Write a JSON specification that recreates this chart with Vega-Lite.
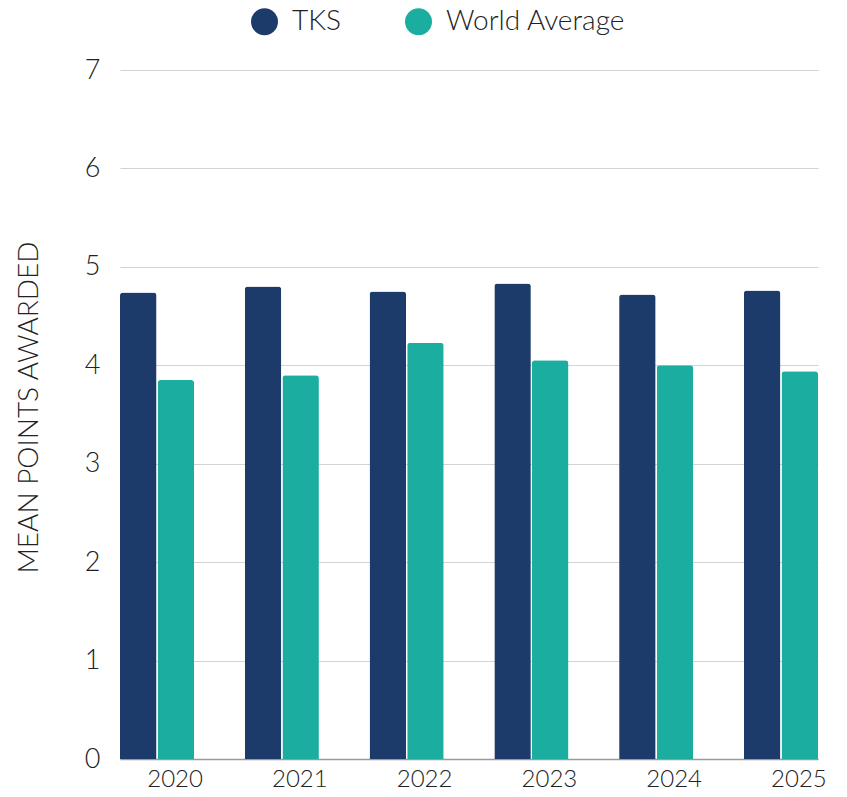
{
  "$schema": "https://vega.github.io/schema/vega-lite/v6.json",
  "width": 698,
  "height": 689,
  "autosize": {"type": "none"},
  "padding": {"left": 120, "top": 70, "right": 29, "bottom": 38},
  "background": "white",
  "config": {
    "view": {"stroke": null},
    "font": "Lato",
    "axis": {"labelFont": "Lato", "titleFont": "Lato", "labelColor": "#222222", "titleColor": "#222222"},
    "legend": {"labelFont": "Lato"}
  },
  "data": {
    "values": [
      {"year": "2020", "series": "TKS", "value": 4.74},
      {"year": "2020", "series": "World Average", "value": 3.85},
      {"year": "2021", "series": "TKS", "value": 4.80},
      {"year": "2021", "series": "World Average", "value": 3.90},
      {"year": "2022", "series": "TKS", "value": 4.75},
      {"year": "2022", "series": "World Average", "value": 4.23},
      {"year": "2023", "series": "TKS", "value": 4.83},
      {"year": "2023", "series": "World Average", "value": 4.05},
      {"year": "2024", "series": "TKS", "value": 4.72},
      {"year": "2024", "series": "World Average", "value": 4.00},
      {"year": "2025", "series": "TKS", "value": 4.76},
      {"year": "2025", "series": "World Average", "value": 3.94}
    ]
  },
  "mark": {"type": "bar", "cornerRadiusTopLeft": 3, "cornerRadiusTopRight": 3},
  "encoding": {
    "x": {
      "field": "year",
      "type": "nominal",
      "scale": {"paddingInner": 0.406, "paddingOuter": 0},
      "axis": {
        "title": null,
        "labelAngle": 0,
        "labelFontSize": 24,
        "labelFontWeight": 300,
        "labelPadding": 8,
        "labelOffset": 18,
        "ticks": false,
        "domain": true,
        "domainColor": "#9a9a9a",
        "domainWidth": 1.5
      }
    },
    "xOffset": {
      "field": "series",
      "type": "nominal",
      "scale": {"paddingInner": 0.03, "paddingOuter": 0}
    },
    "y": {
      "field": "value",
      "type": "quantitative",
      "scale": {"domain": [0, 7], "nice": false},
      "axis": {
        "title": "MEAN POINTS AWARDED",
        "titleFontSize": 28,
        "titleFontWeight": 300,
        "titlePadding": 41,
        "titleY": 337,
        "labelFontSize": 27,
        "labelFontWeight": 300,
        "labelPadding": 20,
        "labelOverlap": false,
        "values": [0, 1, 2, 3, 4, 5, 6, 7],
        "ticks": false,
        "domain": false,
        "gridColor": "#d3d3d3",
        "gridWidth": 1
      }
    },
    "color": {
      "field": "series",
      "type": "nominal",
      "scale": {"domain": ["TKS", "World Average"], "range": ["#1c3a6a", "#1aada0"]},
      "legend": {
        "title": null,
        "orient": "none",
        "direction": "horizontal",
        "legendX": 130,
        "legendY": -63,
        "symbolType": "circle",
        "symbolSize": 729,
        "labelFontSize": 28,
        "labelFontWeight": 300,
        "labelOffset": 13,
        "labelLimit": 400,
        "labelColor": "#222222",
        "columnPadding": 63,
        "symbolOpacity": 1
      }
    }
  }
}
